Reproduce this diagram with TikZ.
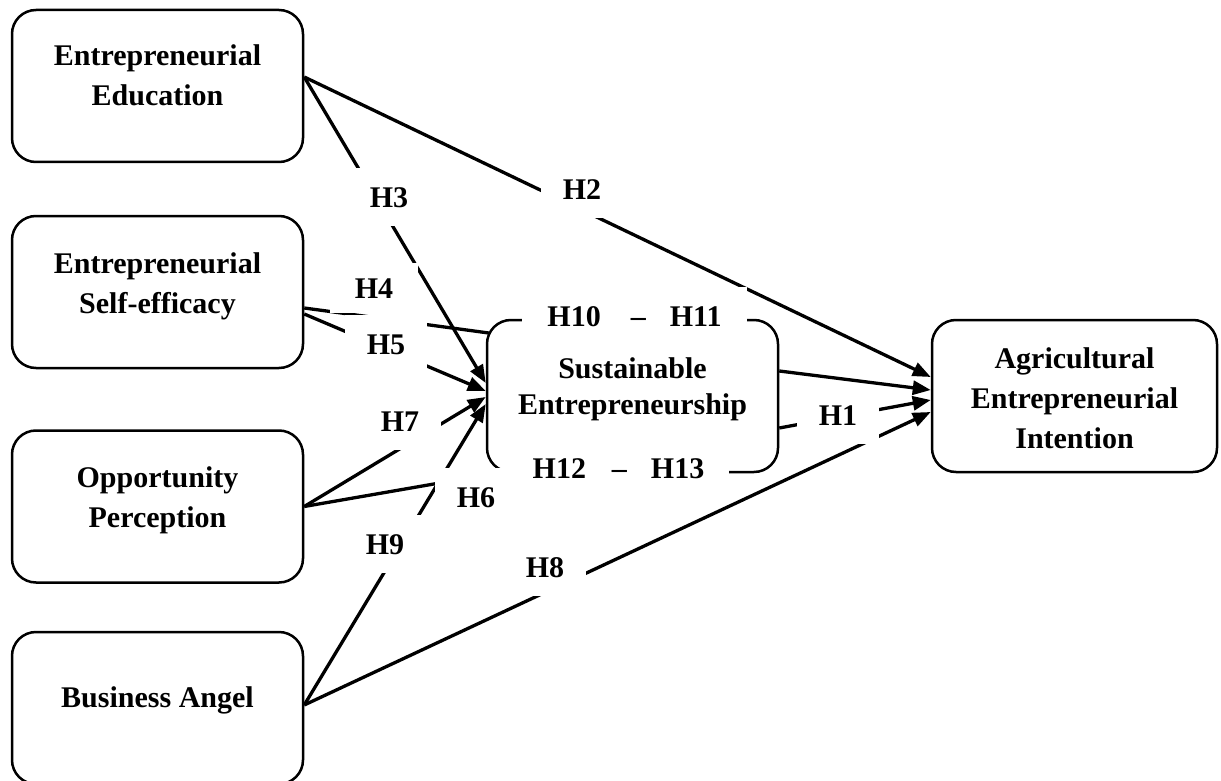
\documentclass[tikz,border=0pt]{standalone}
\usepackage{fontspec}
\setmainfont{Liberation Serif}
\usetikzlibrary{arrows.meta}
\begin{document}
\begin{tikzpicture}[x=1pt,y=-1pt,
  box/.style={draw, line width=2.5pt, rounded corners=24pt, minimum width=291pt, minimum height=152pt, inner sep=0pt},
  boxtext/.style={align=center, font=\fontsize{30}{40}\selectfont\bfseries, inner sep=0pt},
  conn/.style={line width=3.3pt, -{Triangle[length=18pt,width=14pt]}},
  plainconn/.style={line width=3.3pt},
  hyp/.style={fill=white, font=\fontsize{30}{36}\selectfont\bfseries, text height=20pt, text depth=0pt, inner xsep=22pt, inner ysep=19pt}
]
\useasboundingbox (0,0) rectangle (1221,781);

% boxes
\node[box] (ee)  at (157.5,86)  {};
\node[box] (ese) at (157.5,292) {};
\node[box] (op)  at (157.5,506.5) {};
\node[box] (ba)  at (157.5,708) {};
\node[box] (se)  at (632.5,396) {};
\node[box, minimum width=285pt] (aei) at (1074.5,396) {};

% box texts
\node[boxtext] (eet)  at (157.5,75)  {Entrepreneurial\\Education};
\node[boxtext] (eset) at (157.5,286) {Entrepreneurial\\Self-efficacy};
\node[boxtext] (opt)  at (157.5,500) {Opportunity\\Perception};
\node[boxtext] (bat)  at (157.5,700) {Business Angel};
\node[boxtext, font=\fontsize{30}{36}\selectfont\bfseries] (set) at (632.5,389) {Sustainable\\Entrepreneurship};
\node[boxtext] (aeit) at (1074.5,398) {Agricultural\\Entrepreneurial\\Intention};

% connectors
\draw[conn] ([yshift=9pt]ee.east) -- ([yshift=19pt]aei.west);          % H2
\draw[conn] ([yshift=9pt]ee.east) -- ([yshift=13pt]se.west);           % H3
\draw[plainconn] ([yshift=-16pt]ese.east) -- ([shift={(3pt,63pt)}]se.west); % H4
\draw[conn] ([yshift=-22pt]ese.east) -- ([yshift=5pt]se.west);         % H5
\draw[plainconn] (op.east) -- ([xshift=10pt]se.south west);            % H6
\draw[conn] (op.east) -- ([yshift=-1pt]se.west);                       % H7
\draw[conn] ([yshift=3pt]ba.east) -- ([yshift=-8pt]se.west);           % H9
\draw[conn] ([yshift=3pt]ba.east) -- ([yshift=-16pt]aei.west);         % H8
\draw[conn] ([yshift=25pt]se.east) -- ([yshift=6pt]aei.west);
\draw[conn] ([yshift=-32pt]se.east) -- ([yshift=-4pt]aei.west);        % H1

% hypothesis labels
\node[hyp] (h2) at (582,189) {H2};
\node[hyp] (h3) at (389,197) {H3};
\node[hyp, inner ysep=15pt, inner xsep=25pt] (h4) at (374,288) {H4};
\node[hyp] (h5) at (386,344) {H5};
\node[hyp] (h7) at (400,421) {H7};
\node[hyp] (h6) at (476,497) {H6};
\node[hyp] (h9) at (385,544) {H9};
\node[hyp] (h8) at (545,567) {H8};
\node[hyp] (h1) at (838,415) {H1};
\node[hyp, inner xsep=25pt] (h1011) at (634.5,316) {H10\hspace{30pt}–\hspace{24pt}H11};
\node[hyp, inner xsep=25pt] (h1213) at (618.5,468) {H12\hspace{26pt}–\hspace{24pt}H13};
\end{tikzpicture}
\end{document}
